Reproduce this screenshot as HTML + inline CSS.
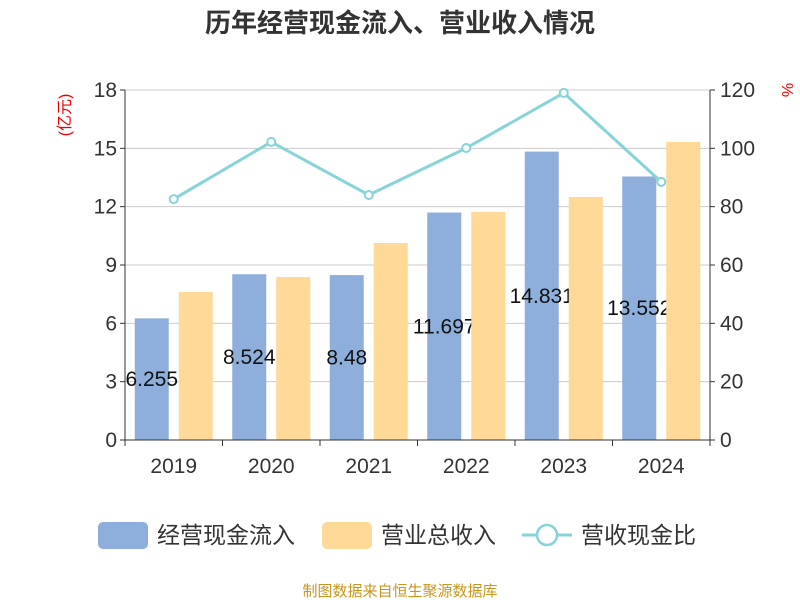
<!DOCTYPE html>
<html><head><meta charset="utf-8"><style>
body{margin:0;background:#fff;}
svg{display:block;font-family:"Liberation Sans","Noto Sans CJK SC",sans-serif;}
</style></head><body>
<svg id="c" width="800" height="600"></svg>
<script>
const categories=["2019","2020","2021","2022","2023","2024"];
const cashIn=[6.255,8.524,8.48,11.697,14.831,13.552];
const revenue=[7.61,8.38,10.13,11.73,12.5,15.33];
const ratio=[82.6,102.2,84,100.1,119,88.5];
const leftTicks=[0,3,6,9,12,15,18];
const rightTicks=[0,20,40,60,80,100,120];
const NS="http://www.w3.org/2000/svg";
const svg=document.getElementById('c');
const X0=125,X1=710,Y0=440,Y1=90;
const band=(X1-X0)/categories.length;
const yL=v=>Y0-(v/18)*(Y0-Y1);
const yR=v=>Y0-(v/120)*(Y0-Y1);
const xc=i=>X0+band*(i+0.5);
function mk(t,a,txt){const e=document.createElementNS(NS,t);for(const k in a)e.setAttribute(k,a[k]);if(txt!=null)e.textContent=txt;svg.appendChild(e);return e;}
let e;
e=mk('text',{x:400,y:32,'text-anchor':'middle','font-size':26,'font-weight':'bold',fill:'#333'},'历年经营现金流入、营业收入情况');

leftTicks.forEach((t,i)=>{
 e=mk('line',{x1:X0,x2:X1,y1:yL(t),y2:yL(t),stroke:'#ccc','stroke-width':1});
 
 e=mk('text',{x:X0-8,y:yL(t)+7,'text-anchor':'end','font-size':21,fill:'#333'},t);
 
 mk('line',{x1:X0-5,x2:X0,y1:yL(t),y2:yL(t),stroke:'#333'});
});
rightTicks.forEach(t=>{
 e=mk('text',{x:X1+10,y:yR(t)+7,'text-anchor':'start','font-size':21,fill:'#333'},t);
 
 mk('line',{x1:X1,x2:X1+5,y1:yR(t),y2:yR(t),stroke:'#333'});
});
mk('line',{x1:X0,x2:X0,y1:Y1,y2:Y0,stroke:'#333'});
mk('line',{x1:X1,x2:X1,y1:Y1,y2:Y0,stroke:'#333'});
e=mk('text',{x:0,y:0,transform:'translate(70,115) rotate(-90)','text-anchor':'middle','font-size':16,fill:'#e00'},'(亿元)');

e=mk('text',{x:0,y:0,transform:'translate(782,90) rotate(90)','text-anchor':'middle','font-size':16,fill:'#e00'},'%');

const bw=34;
categories.forEach((c,i)=>{
 const x=xc(i);
 e=mk('rect',{x:x-bw-5,y:yL(cashIn[i]),width:bw,height:Y0-yL(cashIn[i]),fill:'#8eaedb'});
 
 e=mk('text',{x:x-bw/2-5,y:(yL(cashIn[i])+Y0)/2+7,'text-anchor':'middle','font-size':21,fill:'#111'},cashIn[i]);
 
 e=mk('rect',{x:x+5,y:yL(revenue[i]),width:bw,height:Y0-yL(revenue[i]),fill:'#fed998'});
 
 e=mk('text',{x:x,y:473,'text-anchor':'middle','font-size':21,fill:'#333'},c);
 
});
mk('line',{x1:X0,x2:X1,y1:Y0,y2:Y0,stroke:'#333'});
for(let i=0;i<=categories.length;i++)mk('line',{x1:X0+band*i,x2:X0+band*i,y1:Y0,y2:Y0+6,stroke:'#333'});
e=mk('polyline',{points:ratio.map((v,i)=>xc(i)+','+yR(v)).join(' '),fill:'none',stroke:'#86d4d8','stroke-width':3});

ratio.forEach((v,i)=>{
 e=mk('circle',{cx:xc(i),cy:yR(v),r:4,fill:'#fff',stroke:'#86d4d8','stroke-width':2});
 
});
e=mk('rect',{x:98,y:522,width:50,height:27,rx:5,fill:'#8eaedb'});

mk('text',{x:157,y:543,'font-size':23,fill:'#333'},'经营现金流入');
e=mk('rect',{x:322,y:522,width:50,height:27,rx:5,fill:'#fed998'});

mk('text',{x:381,y:543,'font-size':23,fill:'#333'},'营业总收入');
mk('line',{x1:522,x2:572,y1:535,y2:535,stroke:'#86d4d8','stroke-width':3});
e=mk('circle',{cx:547,cy:535,r:10,fill:'#fff',stroke:'#86d4d8','stroke-width':2.5});

mk('text',{x:581,y:543,'font-size':23,fill:'#333'},'营收现金比');
e=mk('text',{x:400,y:596,'text-anchor':'middle','font-size':15,fill:'#c8961e'},'制图数据来自恒生聚源数据库');

</script>
</body></html>
